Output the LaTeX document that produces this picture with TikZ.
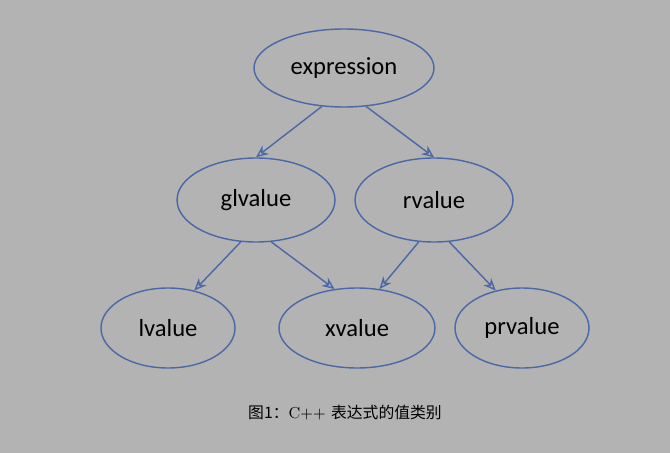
\documentclass[tikz,border=0pt]{standalone}
\usepackage{fontspec}
\setsansfont{Carlito}
\newfontfamily\cjk{Noto Sans CJK SC}
\usetikzlibrary{arrows.meta,shapes.geometric}
\definecolor{bggray}{HTML}{B3B3B3}
\definecolor{edgeblue}{HTML}{4A68A8}
\tikzset{
  valnode/.style={ellipse,draw=edgeblue,thick,fill=bggray,inner sep=0pt,font=\sffamily\fontsize{14}{16}\selectfont},
  valarrow/.style={draw=edgeblue,thick,-{Stealth[length=7pt,width=6pt,open]}}
}
\begin{document}
\begin{tikzpicture}[x=0.02cm,y=-0.02cm]
\fill[bggray] (0,0) rectangle (670,453);
\useasboundingbox (0,0) rectangle (670,453);

\node[valnode,minimum width=180\pgflinewidth*0+3.6cm,minimum height=1.56cm] (expr) at (344,68) {expression};
\node[valnode,minimum width=3.16cm,minimum height=1.68cm] (glv) at (256,200) {glvalue};
\node[valnode,minimum width=3.16cm,minimum height=1.68cm] (rv) at (434,200) {rvalue};
\node[valnode,minimum width=2.68cm,minimum height=1.6cm] (lv) at (168,328) {lvalue};
\node[valnode,minimum width=3.12cm,minimum height=1.6cm] (xv) at (357,328) {xvalue};
\node[valnode,minimum width=2.68cm,minimum height=1.6cm] (prv) at (522,328) {prvalue};

\draw[valarrow] (expr.240) -- (glv.north);
\draw[valarrow] (expr.300) -- (rv.north);
\draw[valarrow] (glv.250) -- (lv.55);
\draw[valarrow] (glv.290) -- (xv.120);
\draw[valarrow] (rv.250) -- (xv.60);
\draw[valarrow] (rv.290) -- (prv.125);

\node[font=\fontsize{9}{11}\selectfont] (cap) at (345,413) {{\cjk 图1：}C++ {\cjk 表达式的值类别}};
\end{tikzpicture}
\end{document}
